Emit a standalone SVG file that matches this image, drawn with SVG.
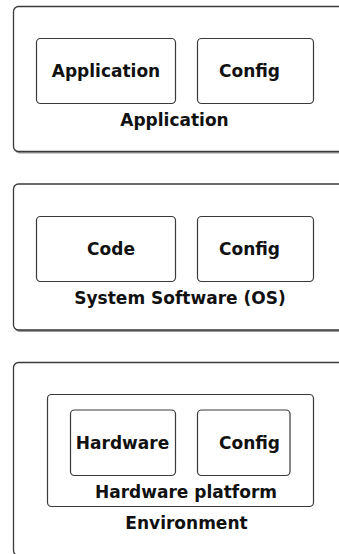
<svg xmlns="http://www.w3.org/2000/svg" width="339" height="554" viewBox="0 0 339 554">
  <style>
    .outer { fill: #ffffff; stroke: #3a3a3a; stroke-width: 1.3; }
    .shadow { fill: #9a9a9a; stroke: none; }
    .box { fill: #ffffff; stroke: #3a3a3a; stroke-width: 1.2; }
    .lbl { font-family: "DejaVu Sans", "Liberation Sans", sans-serif; font-weight: bold; font-size: 17px; fill: #111111; text-anchor: middle; }
  </style>
  <rect width="339" height="554" fill="#ffffff"/>

  <!-- Application layer -->
  <g id="layer-application">
    <rect class="shadow" x="14.5" y="8" width="340" height="145.5" rx="5"/>
    <rect class="outer" x="13.5" y="6.5" width="340" height="145" rx="5"/>
    <text class="lbl" x="174.5" y="125.5">Application</text>
  </g>
  <g id="app-application">
    <rect class="box" x="36.5" y="38.5" width="139" height="65" rx="4"/>
    <text class="lbl" x="106" y="77">Application</text>
  </g>
  <g id="app-config">
    <rect class="box" x="197.5" y="38.5" width="116" height="65" rx="4"/>
    <text class="lbl" x="249.5" y="77">Config</text>
  </g>

  <!-- System software layer -->
  <g id="layer-system">
    <rect class="shadow" x="14.5" y="185.5" width="340" height="146.5" rx="5"/>
    <rect class="outer" x="13.5" y="184" width="340" height="146" rx="5"/>
    <text class="lbl" x="180" y="304">System Software (OS)</text>
  </g>
  <g id="os-code">
    <rect class="box" x="36.5" y="216.5" width="139" height="65" rx="4"/>
    <text class="lbl" x="111" y="255">Code</text>
  </g>
  <g id="os-config">
    <rect class="box" x="197.5" y="216.5" width="116" height="65" rx="4"/>
    <text class="lbl" x="249.5" y="255">Config</text>
  </g>

  <!-- Environment layer -->
  <g id="layer-environment">
    <rect class="shadow" x="14.5" y="364" width="340" height="193.5" rx="5"/>
    <rect class="outer" x="13.5" y="362.5" width="340" height="193" rx="5"/>
    <text class="lbl" x="186.5" y="529">Environment</text>
  </g>
  <g id="hw-platform">
    <rect class="box" x="47.5" y="394.5" width="266" height="112" rx="4"/>
    <text class="lbl" x="186" y="497.5">Hardware platform</text>
  </g>
  <g id="hw-hardware">
    <rect class="box" x="70.5" y="410" width="105" height="65.5" rx="4"/>
    <text class="lbl" x="122.5" y="449">Hardware</text>
  </g>
  <g id="hw-config">
    <rect class="box" x="197.5" y="410" width="92.5" height="65.5" rx="4"/>
    <text class="lbl" x="249.5" y="449">Config</text>
  </g>
</svg>
